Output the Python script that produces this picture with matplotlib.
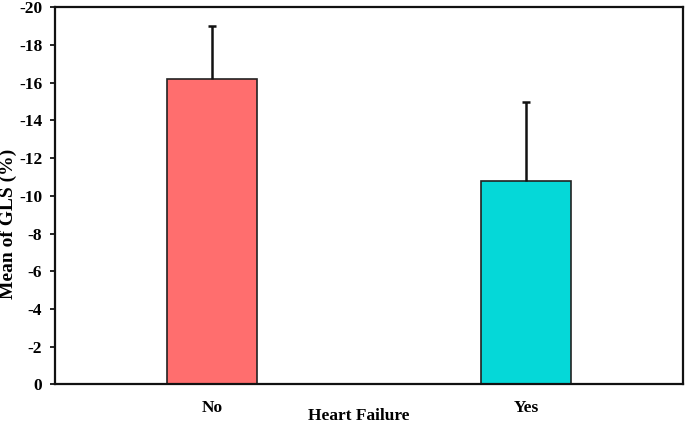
import matplotlib
matplotlib.use("Agg")
import matplotlib.pyplot as plt
import numpy as np

categories = ["No", "Yes"]
means = [-16.2, -10.8]
err_ends = [-19.0, -15.0]
bar_colors = ["#FF6E6E", "#05D8D8"]
yticks = [0, -2, -4, -6, -8, -10, -12, -14, -16, -18, -20]

plt.rcParams['font.family'] = ['Liberation Serif', 'DejaVu Serif']
plt.rcParams['font.weight'] = 'bold'

fig = plt.figure(figsize=(6.85, 4.24), dpi=100)
ax = fig.add_axes([0.0803, 0.0936, 0.9167, 0.8892])

x = np.arange(len(categories))
lower = [m - e for m, e in zip(means, err_ends)]
yerr = [lower, [0] * len(means)]
ax.bar(x, means, width=0.285, color=bar_colors, edgecolor="#222222", linewidth=1.2, zorder=2)
_, caps, _ = ax.errorbar(x, means, yerr=yerr, fmt="none", ecolor="#111111", elinewidth=1.8,
                         capsize=3, capthick=1.8, zorder=3)
# keep only the cap at the far end of each one-sided error bar
for c in caps:
    yd = np.asarray(c.get_ydata())
    if np.allclose(yd, means):
        c.set_visible(False)

ax.set_xlim(-0.5, 1.5)
ax.set_ylim(0, -20)
ax.set_yticks(yticks)
ax.set_yticklabels([str(t) for t in yticks], fontsize=12.5, fontweight='bold')
ax.set_xticks(x)
ax.set_xticklabels(categories, fontsize=12.5, fontweight='bold')
ax.tick_params(axis='x', length=0, pad=11)
ax.tick_params(axis='y', length=3.6, width=1.2, direction='out', pad=5.5)
for s in ax.spines.values():
    s.set_linewidth(1.6)
    s.set_color("#111111")
ax.set_ylabel("Mean of GLS (%)", fontsize=14, fontweight='bold', va='center')
ax.yaxis.set_label_coords(-0.074, 0.425)
ax.set_xlabel("Heart Failure", fontsize=12.5, fontweight='bold', va='center')
ax.xaxis.set_label_coords(0.484, -0.084)

fig.savefig("out.png", dpi=100)
